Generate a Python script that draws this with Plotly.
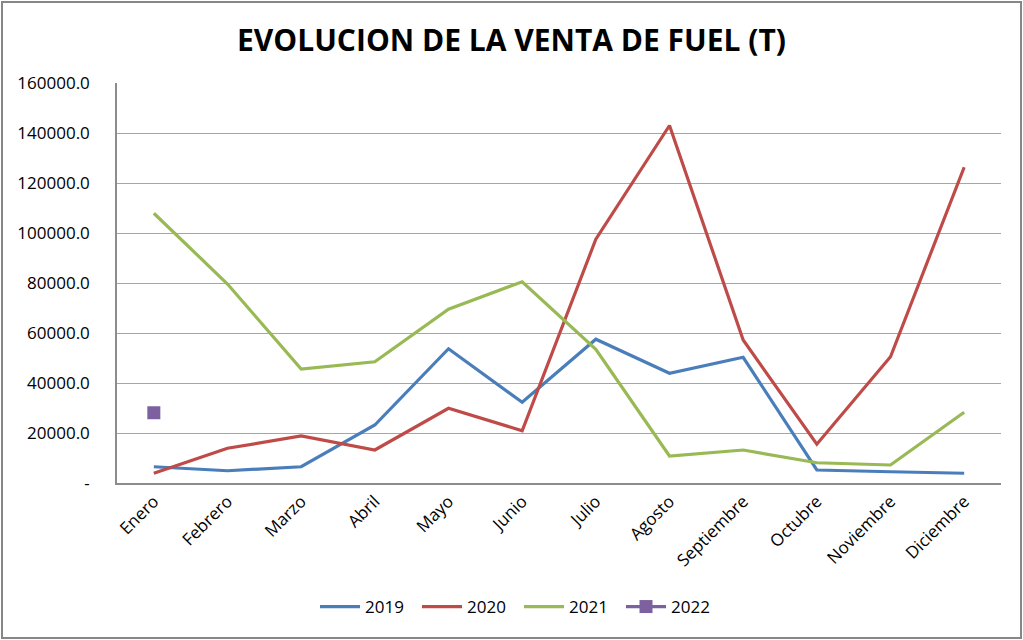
import plotly.graph_objects as go

months = ["Enero", "Febrero", "Marzo", "Abril", "Mayo", "Junio", "Julio",
          "Agosto", "Septiembre", "Octubre", "Noviembre", "Diciembre"]
v2019 = [6500, 4900, 6500, 23200, 53700, 32300, 57500, 43900, 50300, 5200, 4500, 3900]
v2020 = [3900, 13900, 18800, 13200, 29900, 20900, 97500, 143000, 57200, 15500, 50500, 126300]
v2021 = [107900, 79600, 45600, 48500, 69500, 80500, 53500, 10800, 13200, 8100, 7200, 28300]
v2022 = [28100, None, None, None, None, None, None, None, None, None, None, None]
ytick_vals = [0, 20000, 40000, 60000, 80000, 100000, 120000, 140000, 160000]
ytick_text = ["-", "20000.0", "40000.0", "60000.0", "80000.0", "100000.0",
              "120000.0", "140000.0", "160000.0"]

FONT = "Open Sans"
fig = go.Figure()
fig.add_trace(go.Scatter(x=months, y=v2019, name="2019", mode="lines",
                         line=dict(color="#4A7EBB", width=3.2)))
fig.add_trace(go.Scatter(x=months, y=v2020, name="2020", mode="lines",
                         line=dict(color="#BE4B48", width=3.2)))
fig.add_trace(go.Scatter(x=months, y=v2021, name="2021", mode="lines",
                         line=dict(color="#98B954", width=3.2)))
fig.add_trace(go.Scatter(x=months, y=v2022, name="2022", mode="lines+markers",
                         line=dict(color="#7D60A0", width=3.2),
                         marker=dict(symbol="square", size=13, color="#7D60A0")))

W, H = 1023, 640
L, R, T, B = 117, 22, 83, 157
pw, ph = W - L - R, H - T - B

fig.update_layout(
    width=W, height=H,
    margin=dict(l=L, r=R, t=T, b=B),
    paper_bgcolor="white", plot_bgcolor="white",
    font=dict(family=FONT, color="#000000", size=17),
    title=dict(text="<b>EVOLUCION DE LA VENTA DE FUEL (T)</b>",
               x=0.5, xanchor="center", y=1 - 40 / H, yanchor="middle",
               font=dict(family=FONT, size=30, color="#000000")),
    showlegend=True,
    legend=dict(orientation="h", x=0.5 - 40 / pw, xanchor="center",
                y=-(607 - 483) / ph, yanchor="middle",
                font=dict(size=17), itemwidth=40, traceorder="normal",
                entrywidth=47, entrywidthmode="pixels"),
    xaxis=dict(type="category", range=[-0.5, 11.5], tickangle=-45,
               showline=True, linecolor="#8C8C8C", linewidth=1.5,
               showgrid=False, ticks="", tickfont=dict(size=17)),
    yaxis=dict(range=[0, 160000], tickvals=ytick_vals, ticktext=ytick_text,
               showline=True, linecolor="#8C8C8C", linewidth=1.5,
               showgrid=True, gridcolor="#A6A6A6", gridwidth=1,
               zeroline=False, ticks="", ticklabelstandoff=22,
               tickfont=dict(size=17)),
    shapes=[dict(type="rect", xref="paper", yref="paper",
                 x0=(2 - L) / pw, x1=(W - 2 - L) / pw,
                 y0=((H - B) - 638) / ph, y1=((H - B) - 2) / ph,
                 line=dict(color="#868686", width=2), layer="above")],
)
fig.write_html("out.html", config={"displayModeBar": False},
               post_script="document.body.style.margin='0px';document.body.style.overflow='hidden';")
